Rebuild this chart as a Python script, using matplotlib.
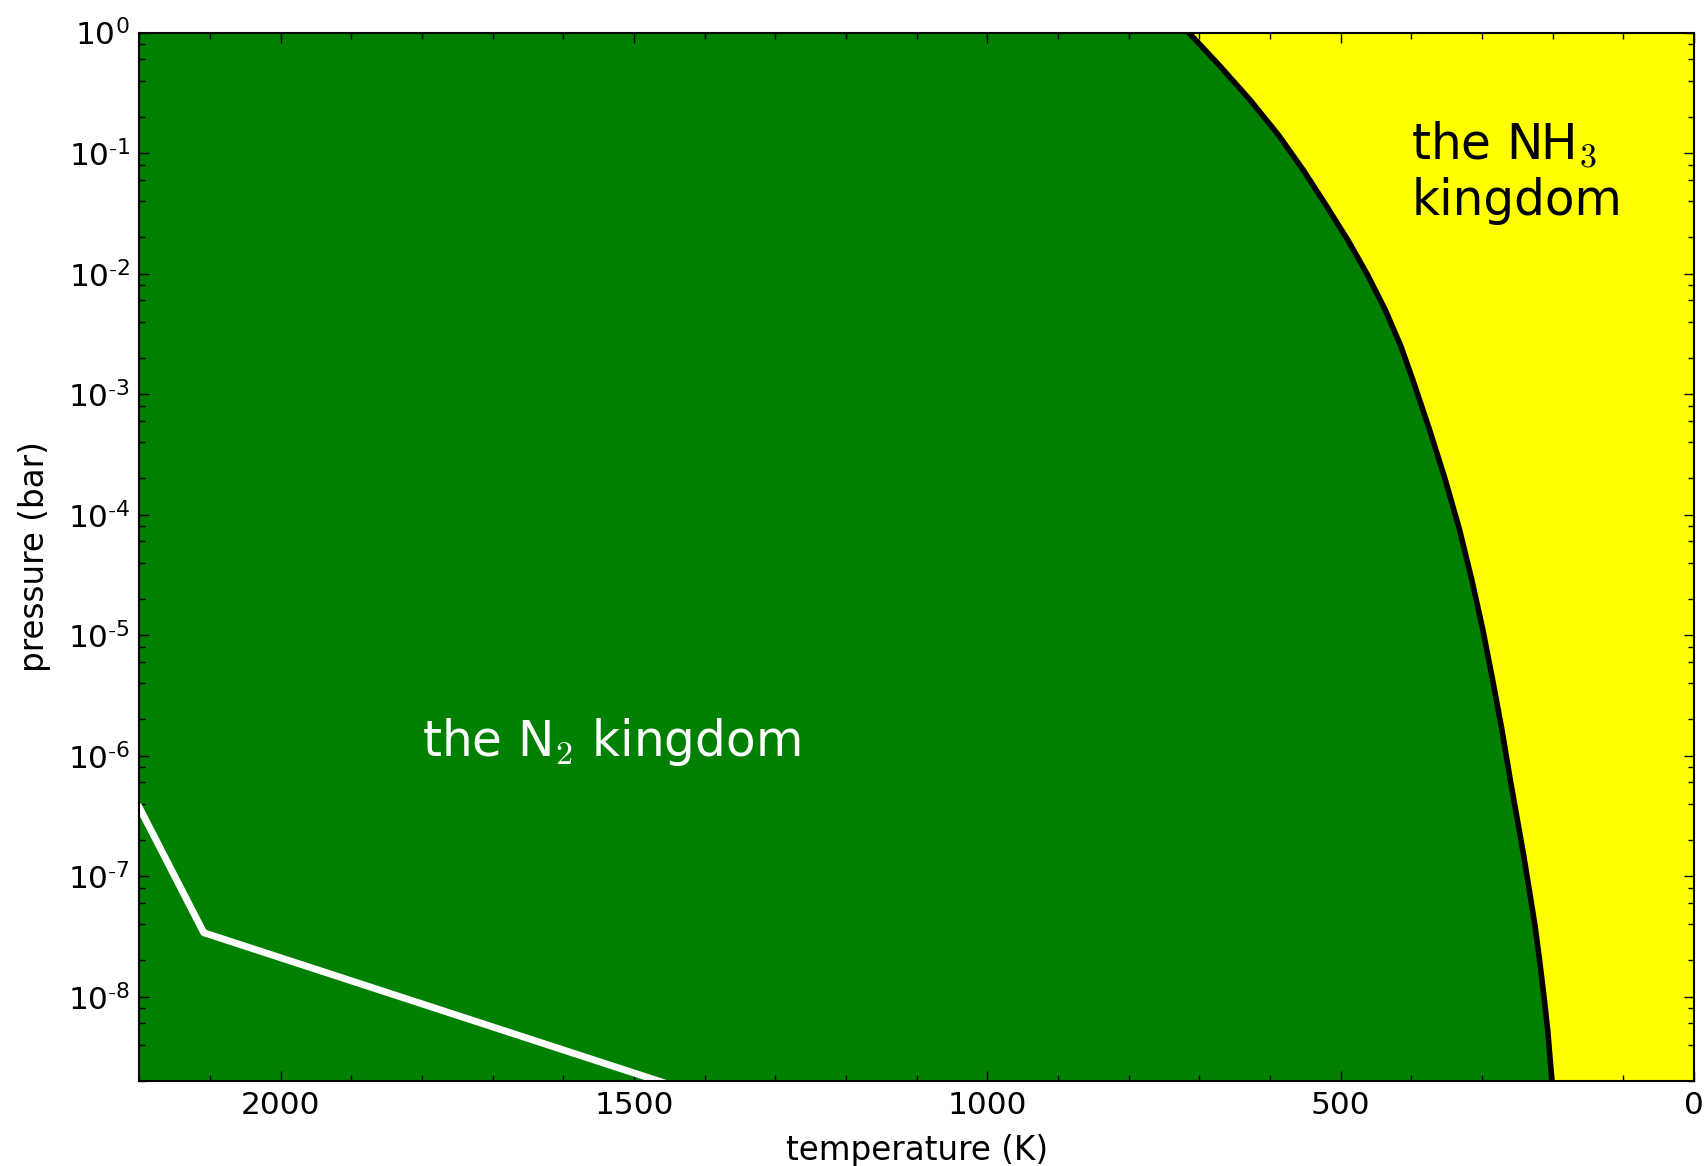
import numpy as np
import matplotlib
matplotlib.use('Agg')
import matplotlib.pyplot as plt
from matplotlib.ticker import MultipleLocator, LogLocator, FuncFormatter, NullFormatter

plt.rcParams['font.family'] = ['DejaVu Sans']
plt.rcParams['mathtext.fontset'] = 'cm'
plt.rcParams['axes.unicode_minus'] = False

# boundary between the two kingdoms
boundary_T = [715, 672, 628, 588, 553, 521, 490, 462, 437, 415, 398, 374, 352,
              332, 314.5, 299, 285, 272, 260, 250, 241, 233, 225, 218.5, 212.5,
              207, 201]
boundary_logp = [0.0, -0.27, -0.56, -0.85, -1.14, -1.43, -1.72, -2.01, -2.30,
                 -2.60, -2.88, -3.30, -3.71, -4.12, -4.54, -4.95, -5.37, -5.78,
                 -6.20, -6.53, -6.83, -7.12, -7.41, -7.70, -7.99, -8.28, -8.70]

# white profile line
profile_T = [2200, 2109, 1400]
profile_p = [3.7e-7, 3.4e-8, 1.5e-9]

T_max, T_min = 2200, 0
p_min, p_max = 2e-9, 1.0
p_decades = [-8, -7, -6, -5, -4, -3, -2, -1, 0]

def log_label(v, pos):
    e = int(round(np.log10(v)))
    if e < 0:
        return r'$\mathdefault{10^{\text{-}%d}}$' % (-e)
    return r'$\mathdefault{10^{%d}}$' % e

def main():
    bT = np.array(boundary_T, dtype=float)
    bp = 10.0 ** np.array(boundary_logp)

    fig = plt.figure(figsize=(17.07, 11.66), dpi=100)
    ax = fig.add_axes([0.0817, 0.0729, 0.9107, 0.8991])

    ax.fill_betweenx(bp, bT, T_max + 100, color='green', lw=0)
    ax.fill_betweenx(bp, T_min - 100, bT, color='yellow', lw=0)
    ax.plot(bT, bp, color='black', lw=4, solid_joinstyle='round')
    ax.plot(profile_T, profile_p, color='white', lw=5)

    ax.text(1800, 1e-6, 'the N$_2$ kingdom', color='white', fontsize=35)
    ax.text(400, 10 ** -1.51, 'the NH$_3$\nkingdom', color='black', fontsize=35)

    ax.set_yscale('log')
    ax.set_xlim(T_max, T_min)

    ax.xaxis.set_major_locator(MultipleLocator(500))
    ax.xaxis.set_minor_locator(MultipleLocator(100))
    ax.set_yticks(10.0 ** np.array(p_decades, dtype=float))
    ax.yaxis.set_minor_locator(LogLocator(base=10, subs=(2, 4, 6, 8), numticks=20))
    ax.yaxis.set_major_formatter(FuncFormatter(log_label))
    ax.yaxis.set_minor_formatter(NullFormatter())
    ax.set_ylim(p_min, p_max)

    ax.tick_params(which='both', direction='in', top=True, right=True)
    ax.tick_params(which='major', length=7, width=1, labelsize=22.5, pad=7)
    ax.tick_params(which='minor', length=4, width=1)
    for s in ax.spines.values():
        s.set_linewidth(1.5)

    ax.set_xlabel('temperature (K)', fontsize=23.5, labelpad=10)
    ax.set_ylabel('pressure (bar)', fontsize=23.5, labelpad=12)

    fig.savefig('out.png', dpi=100)

if __name__ == "__main__":
    main()
